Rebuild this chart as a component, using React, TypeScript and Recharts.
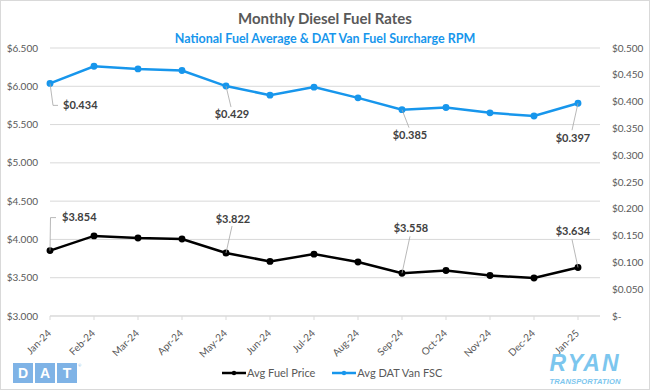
import React from 'react';
import { LineChart, Line, XAxis, YAxis, CartesianGrid, LabelList } from 'recharts';

const months = ['Jan-24', 'Feb-24', 'Mar-24', 'Apr-24', 'May-24', 'Jun-24', 'Jul-24', 'Aug-24', 'Sep-24', 'Oct-24', 'Nov-24', 'Dec-24', 'Jan-25'];
const fuelPrice = [3.854, 4.046, 4.018, 4.005, 3.822, 3.713, 3.808, 3.706, 3.558, 3.595, 3.528, 3.497, 3.634];
const vanFsc = [0.434, 0.466, 0.461, 0.458, 0.429, 0.412, 0.427, 0.407, 0.385, 0.389, 0.379, 0.373, 0.397];
const leftTicks = [3.0, 3.5, 4.0, 4.5, 5.0, 5.5, 6.0, 6.5];
const rightTicks = [0, 0.05, 0.1, 0.15, 0.2, 0.25, 0.3, 0.35, 0.4, 0.45, 0.5];
const labeledIdx = [0, 4, 8, 12];

const data = months.map((m, i) => ({ month: m, fuel: fuelPrice[i], fsc: vanFsc[i] }));

const FONT = 'Lato, "Open Sans", sans-serif';
const GRAY = '#595959';
const BLUE = '#1796EC';

// label placement relative to the point: [textDx, textDy, anchor, leader points]
const fscLabelPos: Record<number, any> = {
  0: { dx: 13, dy: 22, anchor: 'start', leader: [[0, 0], [3, 22], [8, 22]] },
  4: { dx: 6, dy: 28, anchor: 'middle', leader: [[0, 0], [5, 21]] },
  8: { dx: 8, dy: 26, anchor: 'middle', leader: [[0, 0], [7, 18]] },
  12: { dx: -5, dy: 35, anchor: 'middle', leader: [[0, 0], [-6, 27]] },
};
const fuelLabelPos: Record<number, any> = {
  0: { dx: 12, dy: -33, anchor: 'start', leader: [[0, 0], [0.5, -33], [6, -33]] },
  4: { dx: 7, dy: -34, anchor: 'middle', leader: [[0, 0], [6, -27]] },
  8: { dx: 9, dy: -45, anchor: 'middle', leader: [[0, 0], [8, -37]] },
  12: { dx: -5, dy: -36, anchor: 'middle', leader: [[0, 0], [-6, -28]] },
};

const makeLabel = (pos: Record<number, any>) => (props: any) => {
  const { x, y, value, index } = props;
  if (!labeledIdx.includes(index)) return null;
  const p = pos[index];
  const pts = p.leader.map((q: number[]) => `${x + q[0]},${y + q[1]}`).join(' ');
  return (
    <g>
      <polyline points={pts} fill="none" stroke="#a6a6a6" strokeWidth={0.8} />
      <text x={x + p.dx} y={y + p.dy} dy="0.35em" textAnchor={p.anchor} fontFamily={FONT} fontSize={11} fontWeight="bold" fill="#404040">
        {`$${Number(value).toFixed(3)}`}
      </text>
    </g>
  );
};

const XTick = (props: any) => {
  const { x, y, payload } = props;
  return (
    <g transform={`translate(${x - 1},${y + 9})`}>
      <text x={0} y={0} dy={4} textAnchor="end" transform="rotate(-45)" fontFamily={FONT} fontSize={10} fill={GRAY}>
        {payload.value}
      </text>
    </g>
  );
};

const fmtLeft = (v: number) => `$${v.toFixed(3)}`;
const fmtRight = (v: number) => (v === 0 ? '$-' : `$${v.toFixed(3)}`);

const LOGO_FONT = '"Liberation Sans", Arial, sans-serif';

export default function App() {
  return (
    <div style={{ position: 'absolute', left: 0, top: 0, width: 650, height: 390, background: '#fff', fontFamily: FONT }}>
      <div style={{ position: 'absolute', left: 0, top: 0, width: 648, height: 388, border: '1px solid #d9d9d9' }} />
      <div style={{ position: 'absolute', left: 0, top: 9, width: 650, textAlign: 'center', fontSize: 15, fontWeight: 'bold', color: GRAY }}>
        Monthly Diesel Fuel Rates
      </div>
      <div style={{ position: 'absolute', left: 0, top: 31, width: 650, textAlign: 'center', fontSize: 12.5, fontWeight: 'bold', color: BLUE }}>
        National Fuel Average &amp; DAT Van Fuel Surcharge RPM
      </div>
      <div style={{ position: 'absolute', left: 0, top: 0 }}>
        <LineChart width={650} height={390} data={data} margin={{ top: 48, right: 0, bottom: 34, left: 0 }}>
          <CartesianGrid yAxisId="left" vertical={false} stroke="#d9d9d9" />
          <XAxis
            dataKey="month"
            padding={{ left: 0, right: 22 }}
            stroke="#d9d9d9"
            tickSize={4}
            tick={<XTick />}
            interval={0}
            height={40}
          />
          <YAxis
            yAxisId="left"
            domain={[3, 6.5]}
            ticks={leftTicks}
            tickFormatter={fmtLeft}
            axisLine={false}
            tickLine={false}
            tickSize={6}
            tickMargin={6}
            width={50}
            tick={{ fontFamily: FONT, fontSize: 10, fill: GRAY }}
          />
          <YAxis
            yAxisId="right"
            orientation="right"
            domain={[0, 0.5]}
            ticks={rightTicks}
            tickFormatter={fmtRight}
            axisLine={false}
            tickLine={false}
            tickSize={6}
            tickMargin={6}
            width={50}
            tick={{ fontFamily: FONT, fontSize: 10, fill: GRAY, textAnchor: 'start' }}
          />
          <Line yAxisId="left" dataKey="fuel" stroke="#000" strokeWidth={2.5} dot={{ r: 2.2, fill: '#000', stroke: '#000' }} isAnimationActive={false}>
            <LabelList dataKey="fuel" content={makeLabel(fuelLabelPos)} />
          </Line>
          <Line yAxisId="right" dataKey="fsc" stroke={BLUE} strokeWidth={2.5} dot={{ r: 2.2, fill: BLUE, stroke: BLUE }} isAnimationActive={false}>
            <LabelList dataKey="fsc" content={makeLabel(fscLabelPos)} />
          </Line>
        </LineChart>
      </div>
      {/* legend */}
      <div style={{ position: 'absolute', left: 222, top: 366, display: 'flex', alignItems: 'center', fontSize: 11, color: GRAY }}>
        <svg width={24} height={8}><line x1={0} y1={4} x2={24} y2={4} stroke="#000" strokeWidth={2.5} /><circle cx={12} cy={4} r={2.2} fill="#000" /></svg>
        <span style={{ marginLeft: 1 }}>Avg Fuel Price</span>
        <svg width={24} height={8} style={{ marginLeft: 17 }}><line x1={0} y1={4} x2={24} y2={4} stroke={BLUE} strokeWidth={2.5} /><circle cx={12} cy={4} r={2.2} fill={BLUE} /></svg>
        <span style={{ marginLeft: 1 }}>Avg DAT Van FSC</span>
      </div>
      {/* DAT logo */}
      <div style={{ position: 'absolute', left: 13, top: 363, display: 'flex' }}>
        {['D', 'A', 'T'].map((c, i) => (
          <div key={c} style={{ width: 20, height: 20, marginLeft: i ? 2 : 0, background: '#7FB3E6', color: '#fff', fontWeight: 900, fontSize: 14, lineHeight: '20px', textAlign: 'center', fontFamily: LOGO_FONT }}>{c}</div>
        ))}
        <span style={{ fontSize: 4, color: '#7FB3E6', marginLeft: 1 }}>®</span>
      </div>
      {/* RYAN logo */}
      <div style={{ position: 'absolute', left: 544, top: 352, width: 82, textAlign: 'center', color: '#7CC6EE', fontFamily: LOGO_FONT, fontStyle: 'italic', fontWeight: 900, fontSize: 23, lineHeight: 1, letterSpacing: 2 }}>
        RYAN
      </div>
      <div style={{ position: 'absolute', left: 544, top: 378, width: 82, textAlign: 'center', color: '#7CC6EE', fontFamily: LOGO_FONT, fontStyle: 'italic', fontWeight: 900, fontSize: 7.6, lineHeight: 1, letterSpacing: 0.1 }}>
        TRANSPORTATION
      </div>
    </div>
  );
}
